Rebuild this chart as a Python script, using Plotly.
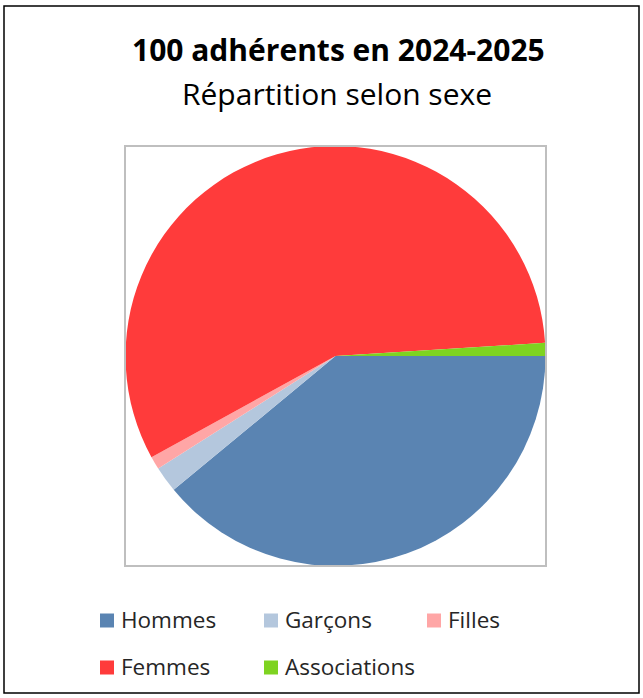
import plotly.graph_objects as go

labels = ["Hommes", "Garçons", "Filles", "Femmes", "Associations"]
values = [39, 2, 1, 57, 1]
colors = ["#5A84B2", "#B4C7DD", "#FFA6A6", "#FF3B3B", "#7ED321"]

W, H = 643, 698
FONT = "Open Sans"


def px(x):
    return x / W


def py(y):
    return 1 - y / H


fig = go.Figure(go.Pie(
    labels=labels, values=values, sort=False, direction="clockwise", rotation=90,
    marker=dict(colors=colors, line=dict(width=0)),
    textinfo="none", hoverinfo="label+value+percent", showlegend=False,
    domain=dict(x=[px(125), px(546)], y=[py(566), py(146)]),
))

shapes = [
    dict(type="rect", xref="paper", yref="paper", x0=px(4), x1=px(639), y0=py(693), y1=py(6),
         line=dict(color="black", width=1.5)),
    dict(type="rect", xref="paper", yref="paper", x0=px(125), x1=px(546), y0=py(566), y1=py(146),
         line=dict(color="#BFBFBF", width=2)),
]
annotations = [
    dict(text="<b>100 adhérents en 2024-2025</b>", x=px(338), y=py(50), xref="paper", yref="paper",
         showarrow=False, font=dict(family=FONT, size=30, color="black"), xanchor="center", yanchor="middle"),
    dict(text="Répartition selon sexe", x=px(337), y=py(94), xref="paper", yref="paper",
         showarrow=False, font=dict(family=FONT, size=30, color="black"), xanchor="center", yanchor="middle"),
]

# manual legend (3 columns, 2 rows)
col_x = [100, 264, 427]
row_y = [620, 667]
for i, (lab, col) in enumerate(zip(labels, colors)):
    cx = col_x[i % 3]
    cy = row_y[i // 3]
    shapes.append(dict(type="rect", xref="paper", yref="paper",
                       x0=px(cx), x1=px(cx + 14), y0=py(cy + 7.5), y1=py(cy - 6.5),
                       fillcolor=col, line=dict(width=0)))
    annotations.append(dict(text=lab, x=px(cx + 19), y=py(cy - 1), xref="paper", yref="paper",
                            showarrow=False, xanchor="left", yanchor="middle",
                            font=dict(family=FONT, size=22.5, color="#262626")))

fig.update_layout(
    width=W, height=H, margin=dict(l=0, r=0, t=0, b=0),
    paper_bgcolor="white", plot_bgcolor="white",
    shapes=shapes, annotations=annotations,
)
fig.write_html("out.html", config={"displayModeBar": False},
               post_script="document.body.style.margin='0';")
